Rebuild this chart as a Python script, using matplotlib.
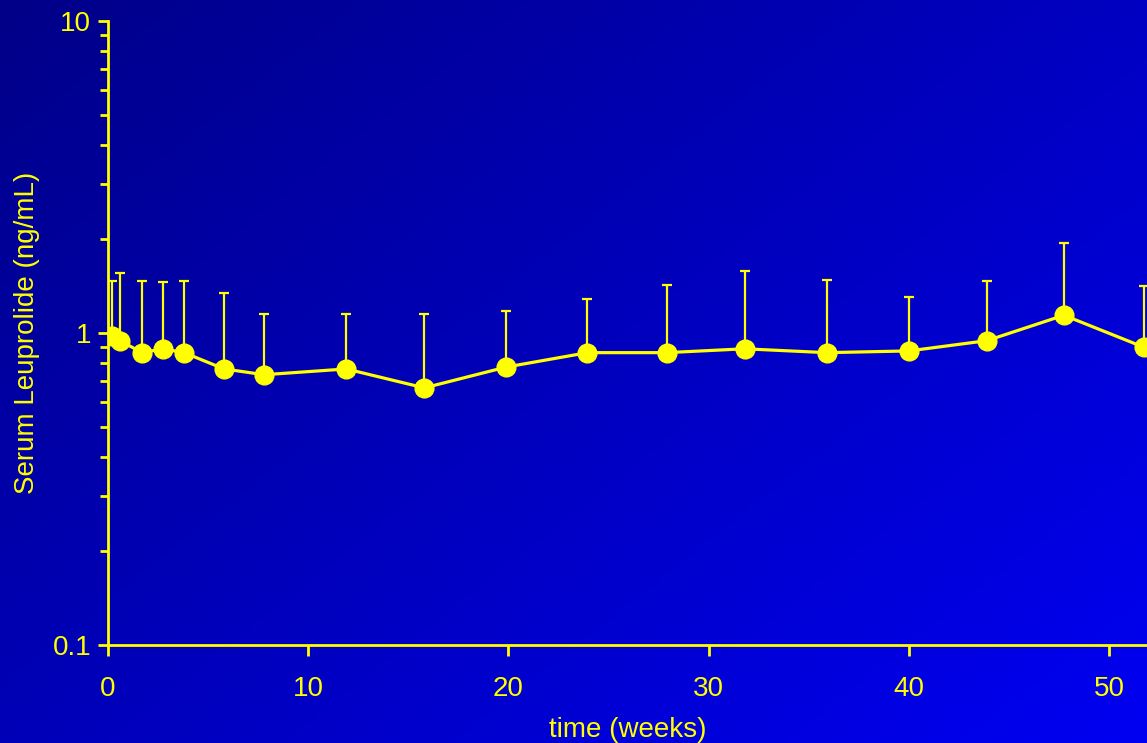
import numpy as np
import matplotlib
matplotlib.use("Agg")
import matplotlib.pyplot as plt
from matplotlib.colors import LinearSegmentedColormap
from matplotlib.ticker import LogLocator, NullFormatter, FixedLocator, FixedFormatter

plt.rcParams['font.family'] = ['Liberation Sans', 'DejaVu Sans']

# data
weeks = [0.2, 0.6, 1.7, 2.75, 3.8, 5.8, 7.8, 11.9, 15.8, 19.9, 23.95, 27.9,
         31.8, 35.9, 40.0, 43.9, 47.75, 51.75]
leuprolide = [0.98, 0.945, 0.865, 0.89, 0.865, 0.767, 0.735, 0.767, 0.667, 0.778,
              0.865, 0.865, 0.89, 0.865, 0.876, 0.945, 1.14, 0.90]
upper = [1.47, 1.56, 1.47, 1.46, 1.47, 1.345, 1.15, 1.148, 1.15, 1.176,
         1.285, 1.425, 1.58, 1.48, 1.305, 1.47, 1.94, 1.415]

yellow = '#ffff00'

fig = plt.figure(figsize=(11.47, 7.43), dpi=100)

# blue gradient background
bg = fig.add_axes([0, 0, 1, 1], zorder=-1)
gx, gy = np.meshgrid(np.linspace(0, 1, 300), np.linspace(0, 1, 200))
grad = 0.55 * gx + 0.45 * gy
cmap = LinearSegmentedColormap.from_list('bg', ['#000088', '#0000f2'])
bg.imshow(grad, cmap=cmap, aspect='auto', extent=[0, 1, 0, 1], origin='upper')
bg.axis('off')

ax = fig.add_axes([108 / 1147, 98 / 743, 1 - 108 / 1147, 624 / 743])
ax.patch.set_alpha(0)

yerr = np.array(upper) - np.array(leuprolide)
ax.errorbar(weeks, leuprolide, yerr=[np.zeros(len(yerr)), yerr], fmt='none',
            ecolor=yellow, elinewidth=1.6, capsize=3.3, capthick=1.6, zorder=2)
ax.plot(weeks, leuprolide, '-o', color=yellow, lw=2.3, markersize=13.5, zorder=3)

ax.set_yscale('log')
ax.set_ylim(0.1, 10)
ax.set_xlim(0, 51.9)

ax.yaxis.set_major_locator(FixedLocator([0.1, 1, 10]))
ax.yaxis.set_major_formatter(FixedFormatter(['0.1', '1', '10']))
ax.yaxis.set_minor_locator(LogLocator(base=10, subs=np.arange(2, 10)))
ax.yaxis.set_minor_formatter(NullFormatter())
ax.set_xticks([0, 10, 20, 30, 40, 50])

for s in ['top', 'right']:
    ax.spines[s].set_visible(False)
for s in ['left', 'bottom']:
    ax.spines[s].set_color(yellow)
    ax.spines[s].set_linewidth(2)

ax.tick_params(axis='both', which='both', colors=yellow, width=2, labelsize=20)
ax.tick_params(axis='y', which='major', length=7, pad=5)
ax.tick_params(axis='y', which='minor', length=6)
ax.tick_params(axis='x', which='major', length=8, pad=14)

ax.set_xlabel('time (weeks)', color=yellow, fontsize=20, labelpad=11)
ax.set_ylabel('Serum Leuprolide (ng/mL)', color=yellow, fontsize=20, labelpad=9)

fig.savefig('out.png', dpi=100)
